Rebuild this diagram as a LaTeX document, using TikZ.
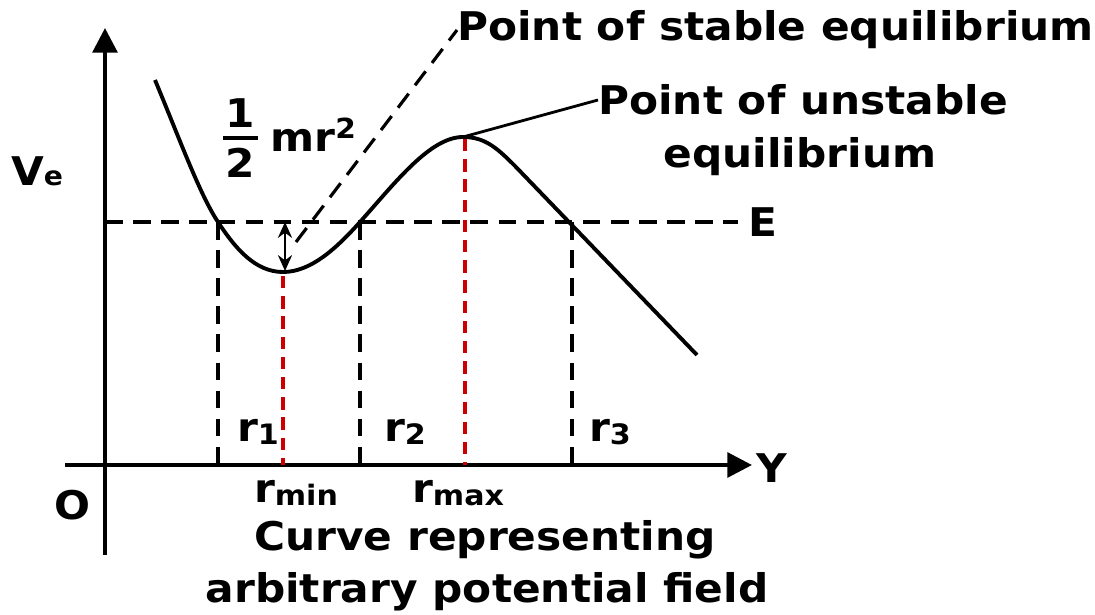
\documentclass[tikz,border=0pt]{standalone}
\usepackage{fontspec}
\setmainfont{DejaVu Sans}[FakeStretch=1.07]
\usetikzlibrary{arrows.meta}
\begin{document}
\begin{tikzpicture}[x=0.02cm,y=-0.02cm,
  lbl/.style={font=\fontsize{22.5}{26}\selectfont\bfseries, inner sep=0pt},
  axis/.style={line width=2.3pt},
  curve/.style={line width=2.2pt},
  dsh/.style={line width=1.8pt, dash pattern=on 10pt off 6pt},
  rdsh/.style={line width=1.8pt, red!80!black, dash pattern=on 7pt off 4.5pt},
  ]
\useasboundingbox (0,0) rectangle (1095,615);
% axes
\coordinate (yb) at (105,555);
\coordinate (yt) at (105,28);
\coordinate (xl) at (65,465);
\coordinate (xr) at (752,465);
\draw[axis,-{Triangle[length=14pt,width=14pt]}] (yb) -- (yt);
\draw[axis,-{Triangle[length=14pt,width=14pt]}] (xl) -- (xr);
\node[lbl] (O) at (72,505) {O};
\node[lbl] (Y) at (772,468) {Y};
\node[lbl,anchor=base] (Ve) at (37,185) {V\fontsize{15}{15}\selectfont e};
% energy line
\coordinate (e0) at (105,222);
\coordinate (e1) at (738,222);
\draw[dsh] (e0) -- (e1);
\node[lbl] (E) at (763,222) {E};
% key points
\coordinate (p1) at (218,222);
\coordinate (pmin) at (283,272);
\coordinate (p2) at (360,222);
\coordinate (pmax) at (463,137);
\coordinate (p3) at (572,222);
% curve
\draw[curve] (155,80) .. controls (180,140) and (200,195) .. (p1)
  .. controls (235,248) and (255,272) .. (pmin)
  .. controls (310,272) and (335,250) .. (p2)
  .. controls (395,183) and (430,137) .. (pmax)
  .. controls (485,137) and (497,148) .. (515,166) -- (697,355);
% verticals
\coordinate (a1) at (218,465);
\coordinate (a2) at (360,465);
\coordinate (a3) at (572,465);
\coordinate (amin) at (283,465);
\coordinate (amax) at (465,465);
\draw[dsh] (p1) -- (a1);
\draw[dsh] (p2) -- (a2);
\draw[dsh] (p3) -- (a3);
\draw[rdsh] (283,276) -- (amin);
\draw[rdsh] (465,139) -- (amax);
% double arrow
\coordinate (da) at (285,222);
\coordinate (db) at (285,271);
\draw[line width=1.6pt,{Stealth[length=9pt,width=8pt]}-{Stealth[length=9pt,width=8pt]}] (da) -- (db);
% labels r
\node[lbl] (r1) at (258,432) {r\raisebox{-2pt}{\fontsize{16}{16}\selectfont 1}};
\node[lbl] (r2) at (405,432) {r\raisebox{-2pt}{\fontsize{16}{16}\selectfont 2}};
\node[lbl] (r3) at (610,432) {r\raisebox{-2pt}{\fontsize{16}{16}\selectfont 3}};
\node[lbl] (rmin) at (296,493) {r\raisebox{-2pt}{\fontsize{16}{16}\selectfont min}};
\node[lbl] (rmax) at (458,493) {r\raisebox{-2pt}{\fontsize{16}{16}\selectfont max}};
% fraction
\node[lbl] (one) at (240,113) {1};
\node[lbl] (two) at (240,163) {2};
\coordinate (fb0) at (223,138);
\coordinate (fb1) at (258,138);
\draw[line width=2.2pt] (fb0) -- (fb1);
\node[lbl,anchor=west] (mr) at (270,135) {mr\textsuperscript{2}};
% stable label
\node[lbl,anchor=west] (stab) at (457,30) {Point of stable equilibrium};
\coordinate (sl0) at (296,242);
\draw[dsh] (sl0) -- (stab.west);
% unstable label
\node[lbl,anchor=west] (unst) at (598,100) {Point of unstable};
\node[lbl] (unst2) at (800,157) {equilibrium};
\draw[line width=1.6pt] (pmax) -- (unst.west);
% bottom caption
\node[lbl] (cap1) at (485,540) {Curve representing};
\node[lbl] (cap2) at (487,592) {arbitrary potential field};
\end{tikzpicture}
\end{document}
